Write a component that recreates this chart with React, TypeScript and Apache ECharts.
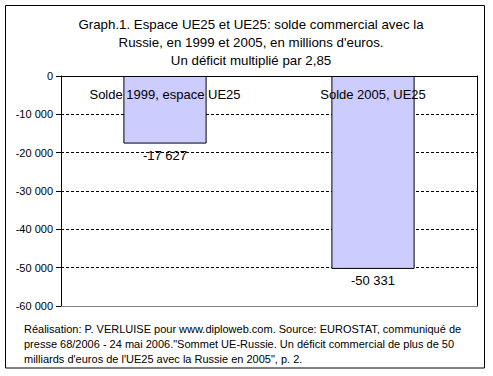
import React, { useEffect, useRef } from "react";
import * as echarts from "echarts";

const categories = ["Solde 1999, espace UE25", "Solde 2005, UE25"];
const values = [-17627, -50331];
const titleLines = [
  "Graph.1. Espace UE25 et UE25: solde commercial avec la",
  "Russie, en 1999 et 2005, en millions d'euros.",
  "Un déficit multiplié par 2,85",
];
const footerLines = [
  "Réalisation: P. VERLUISE pour www.diploweb.com. Source: EUROSTAT, communiqué de",
  "presse 68/2006 - 24 mai 2006.\"Sommet UE-Russie. Un déficit commercial de plus de 50",
  "milliards d'euros de l'UE25 avec la Russie en 2005\", p. 2.",
];
const yMin = -60000;
const yMax = 0;
const yStep = 10000;

const FONT = "'Liberation Sans', Arial, sans-serif";

function fmt(v: number): string {
  const s = Math.abs(Math.round(v)).toString().replace(/\B(?=(\d{3})+(?!\d))/g, " ");
  return (v < 0 ? "-" : "") + s;
}

export default function App() {
  const ref = useRef<HTMLDivElement>(null);
  useEffect(() => {
    if (!ref.current) return;
    const chart = echarts.init(ref.current, null, { renderer: "svg" });
    chart.setOption({
      animation: false,
      backgroundColor: "#ffffff",
      textStyle: { fontFamily: FONT },
      title: {
        text: titleLines.join("\n"),
        left: 246,
        top: 10,
        padding: 5,
        textAlign: "center",
        textStyle: {
          fontFamily: FONT,
          fontSize: 13.3,
          fontWeight: "normal",
          color: "#000",
          lineHeight: 18,
        },
      },
      grid: { left: 61, top: 76, right: 16, bottom: 70, containLabel: false },
      xAxis: [
        {
          type: "category",
          data: categories,
          position: "top",
          z: 3,
          axisLine: { show: true, onZero: false, lineStyle: { color: "#000", width: 1 } },
          axisTick: { show: false },
          axisLabel: {
            inside: true,
            margin: 12,
            fontSize: 13,
            color: "#000",
            fontFamily: FONT,
            interval: 0,
          },
          splitLine: { show: false },
        },
        {
          type: "category",
          data: categories,
          position: "bottom",
          axisLine: { show: true, onZero: false, lineStyle: { color: "#808080", width: 1 } },
          axisTick: { show: false },
          axisLabel: { show: false },
          splitLine: { show: false },
        },
      ],
      yAxis: [
        {
          type: "value",
          min: yMin,
          max: yMax,
          interval: yStep,
          axisLine: { show: true, lineStyle: { color: "#000", width: 1 } },
          axisTick: { show: true, inside: false, length: 5, lineStyle: { color: "#000" } },
          axisLabel: {
            fontSize: 11,
            color: "#000",
            margin: 8,
            fontFamily: FONT,
            formatter: (v: number) => fmt(v),
          },
          splitLine: { show: true, lineStyle: { color: "#000", type: [3, 2], width: 1 } },
        },
        {
          type: "value",
          min: yMin,
          max: yMax,
          interval: yStep,
          position: "right",
          axisLine: { show: true, lineStyle: { color: "#000", width: 1 } },
          axisTick: { show: false },
          axisLabel: { show: false },
          splitLine: { show: false },
        },
      ],
      series: [
        {
          type: "bar",
          data: values,
          barWidth: "40%",
          itemStyle: { color: "#ccccff", borderColor: "#000", borderWidth: 1 },
          label: {
            show: true,
            position: "bottom",
            distance: 5,
            fontSize: 13,
            color: "#000",
            fontFamily: FONT,
            formatter: (p: any) => fmt(p.value),
          },
        },
      ],
      graphic: [
        {
          type: "rect",
          shape: { x: 5.5, y: 5.5, width: 479, height: 362.5 },
          style: { fill: "none", stroke: "#000", lineWidth: 1 },
          silent: true,
        },
        {
          type: "text",
          left: 24,
          top: 322,
          style: {
            text: footerLines.join("\n"),
            fontSize: 11,
            lineHeight: 14.6,
            fill: "#000",
            fontFamily: FONT,
          },
        },
      ],
    });
    return () => chart.dispose();
  }, []);
  return (
    <div
      ref={ref}
      style={{ position: "fixed", left: 0, top: 0, width: 493, height: 376 }}
    />
  );
}
